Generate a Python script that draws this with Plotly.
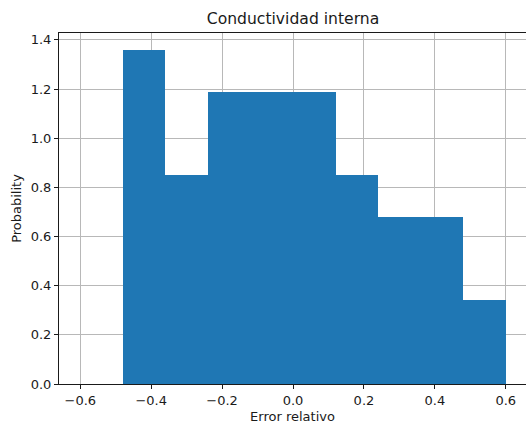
import plotly.graph_objects as go

# Histogram bins (relative error) and normalised frequencies
bin_edges = [-0.60, -0.48, -0.36, -0.24, -0.12, 0.00, 0.12, 0.24, 0.36, 0.48, 0.60]
density = [0.0, 1.36, 0.85, 1.19, 1.19, 1.19, 0.85, 0.68, 0.68, 0.34]

x_ticks = [-0.6, -0.4, -0.2, 0.0, 0.2, 0.4, 0.6]
x_tick_text = ["\u22120.6", "\u22120.4", "\u22120.2", "0.0", "0.2", "0.4", "0.6"]
y_ticks = [0.0, 0.2, 0.4, 0.6, 0.8, 1.0, 1.2, 1.4]
y_tick_text = ["0.0", "0.2", "0.4", "0.6", "0.8", "1.0", "1.2", "1.4"]

centers = [(a + b) / 2 for a, b in zip(bin_edges[:-1], bin_edges[1:])]
widths = [b - a for a, b in zip(bin_edges[:-1], bin_edges[1:])]

fig = go.Figure(
    go.Bar(
        x=centers,
        y=density,
        width=widths,
        marker=dict(color="#1f77b4", line=dict(width=0)),
        hoverinfo="x+y",
    )
)

font = dict(family="DejaVu Sans", size=13, color="#1a1a1a")

fig.update_layout(
    width=526,
    height=425,
    margin=dict(l=59, r=0, t=33, b=41),
    paper_bgcolor="white",
    plot_bgcolor="white",
    showlegend=False,
    bargap=0,
    font=font,
    title=dict(
        text="Conductividad interna",
        font=dict(family="DejaVu Sans", size=15.6, color="#1a1a1a"),
        x=(59 + 527) / 2 / 526,
        xanchor="center",
        y=1 - 19 / 425,
        yanchor="middle",
    ),
    xaxis=dict(
        range=[-0.66, 0.657],
        tickvals=x_ticks,
        ticktext=x_tick_text,
        ticks="outside",
        ticklen=4,
        tickcolor="#1a1a1a",
        tickfont=font,
        showline=True,
        linecolor="#1a1a1a",
        linewidth=1,
        mirror=True,
        showgrid=True,
        gridcolor="#b8b8b8",
        gridwidth=1,
        zeroline=False,
        layer="above traces",
        title=dict(text="Error relativo", font=font, standoff=5),
    ),
    yaxis=dict(
        range=[0, 1.428],
        tickvals=y_ticks,
        ticktext=y_tick_text,
        ticks="outside",
        ticklen=4,
        tickcolor="#1a1a1a",
        tickfont=font,
        showline=True,
        linecolor="#1a1a1a",
        linewidth=1,
        showgrid=True,
        gridcolor="#b8b8b8",
        gridwidth=1,
        zeroline=False,
        layer="above traces",
        title=dict(text="Probability", font=font, standoff=6),
    ),
)

fig.write_html("out.html")
